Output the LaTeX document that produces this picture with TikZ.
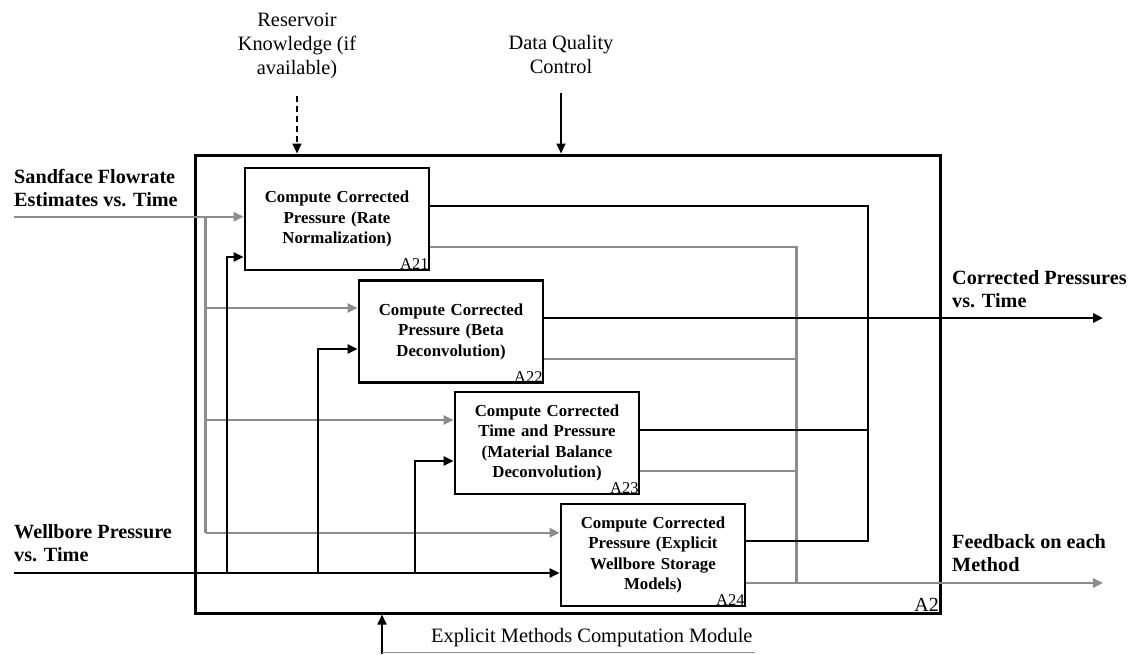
\documentclass[tikz,border=0pt]{standalone}
\usepackage{fontspec}
\setmainfont{Liberation Serif}
\usetikzlibrary{arrows.meta,calc}
\definecolor{lg}{RGB}{140,140,140}
\begin{document}
\begin{tikzpicture}[x=1pt,y=-1pt,
 proc/.style={draw,line width=2.7pt,minimum width=184pt,minimum height=102pt,inner sep=0pt,text width=176pt,align=center,font=\fontsize{16.8}{20.5}\selectfont\bfseries},
 outerbox/.style={draw,line width=3pt,minimum width=745pt,minimum height=458pt,inner sep=0pt},
 blk/.style={line width=2.5pt,draw=black},
 gry/.style={line width=2.4pt,draw=lg},
 arr/.style={-{Triangle[length=10pt,width=9pt]}},
 lbl/.style={font=\fontsize{20.4}{24}\selectfont,align=center,inner sep=0pt},
 blbl/.style={font=\fontsize{20.2}{23.5}\selectfont\bfseries,align=left,anchor=west,inner sep=0pt},
 tag/.style={font=\fontsize{16.5}{18}\selectfont,anchor=south east,inner sep=1.5pt},
 bigtag/.style={font=\fontsize{20}{22}\selectfont,anchor=south east,inner sep=2.5pt}]
\useasboundingbox (0,0) rectangle (1130,654);

% outer box
\node[outerbox] (A2) at (567.5,384) {};
\node[bigtag] (A2t) at (A2.south east) {A2};

% process boxes
\node[proc] (A21) at (337,219) {Compute Corrected\\Pressure (Rate\\Normalization)};
\node[proc] (A22) at (451,331.5) {Compute Corrected\\Pressure (Beta\\Deconvolution)};
\node[proc] (A23) at (547,443) {Compute Corrected\\Time and Pressure\\(Material Balance\\Deconvolution)};
\node[proc] (A24) at (653,555) {Compute Corrected\\Pressure (Explicit\\Wellbore Storage\\Models)};
\node[tag] (A21t) at (A21.south east) {A21};
\node[tag] (A22t) at (A22.south east) {A22};
\node[tag] (A23t) at (A23.south east) {A23};
\node[tag] (A24t) at (A24.south east) {A24};

% labels
\node[lbl] (res) at (297,46) {Reservoir\\Knowledge (if\\available)};
\node[lbl] (dqc) at (561,55) {Data Quality\\Control};
\node[blbl] (sf) at (14,188) {Sandface Flowrate\\Estimates vs. Time};
\node[blbl] (wb) at (14,543) {Wellbore Pressure\\vs. Time};
\node[blbl] (cp) at (952,289) {Corrected Pressures\\vs. Time};
\node[blbl] (fb) at (952,553) {Feedback on each\\Method};
\node[lbl,anchor=west] (em) at (431,638) {Explicit Methods Computation Module};

% controls from top
\coordinate (resS) at (297,96);
\coordinate (dqcS) at (561,93);
\draw[line width=1.7pt,dash pattern=on 6pt off 4pt,arr] (resS) -- (resS |- A2.north);
\draw[line width=1.7pt,arr] (dqcS) -- (dqcS |- A2.north);

% mechanism from bottom
\coordinate (emS) at (382,654);
\draw[line width=1.7pt,arr] (emS) -- (emS |- A2.south);
\draw[line width=1.3pt,draw=lg] (382,652.8) -- (755,652.8);

% gray inputs (flowrate)
\draw[gry,arr] (14,216.7) -- (A21.west |- 0,216.7);
\draw[gry] (205.5,216.7) -- (205.5,532.7);
\draw[gry,arr] (205.5,308) -- (A22.west |- 0,308);
\draw[gry,arr] (205.5,420) -- (A23.west |- 0,420);
\draw[gry,arr] (205.5,532.7) -- (A24.west |- 0,532.7);

% black inputs (pressure)
\draw[blk,arr] (14,573) -- (A24.west |- 0,573);
\draw[blk,arr] (227,573) -- (227,257) -- (A21.west |- 0,257);
\draw[blk,arr] (318,573) -- (318,349) -- (A22.west |- 0,349);
\draw[blk,arr] (415,573) -- (415,461) -- (A23.west |- 0,461);

% gray outputs (feedback)
\draw[gry] (A21.east |- 0,247) -- (796.5,247) -- (796.5,583);
\draw[gry] (A22.east |- 0,359) -- (796.5,359);
\draw[gry] (A23.east |- 0,471) -- (796.5,471);
\draw[gry,arr] (A24.east |- 0,583) -- (1103,583);

% black outputs (corrected pressures)
\draw[blk] (A21.east |- 0,206) -- (868,206) -- (868,541) -- (A24.east |- 0,541);
\draw[blk] (A23.east |- 0,430) -- (868,430);
\draw[blk,arr] (A22.east |- 0,318) -- (1103,318);
\end{tikzpicture}
\end{document}
